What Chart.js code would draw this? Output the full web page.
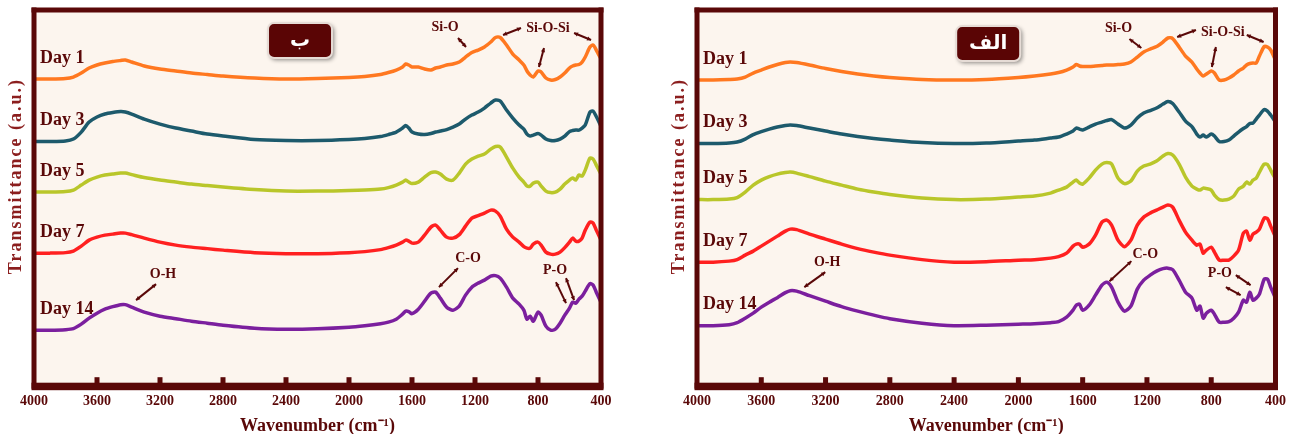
<!doctype html>
<html>
<head>
<meta charset="utf-8" />
<title>FTIR spectra - Day 1 to Day 14</title>
<script src="https://cdn.jsdelivr.net/npm/chart.js@4.4.1/dist/chart.umd.min.js"></script>
<style>
	html,
	body {
		margin: 0;
		padding: 0;
		background: #fff;
	}
	#wrap {
		position: relative;
		width: 1293px;
		height: 434px;
	}
	canvas {
		position: absolute;
		top: 0;
	}
	#chartB { left: 0; }
	#chartA { left: 645px; }
</style>
</head>
<body>
<div id="wrap">
	<canvas id="chartB" width="645" height="434"></canvas>
	<canvas id="chartA" width="648" height="434"></canvas>
</div>
<script>
// wavenumbers (cm-1) at which the spectra were read
const wavenumbers = [4000, 3900, 3800, 3750, 3700, 3650, 3600, 3550, 3500, 3450, 3420, 3380, 3300, 3200, 3100,
	3000, 2900, 2800, 2600, 2400, 2200, 2000, 1900, 1800, 1750, 1700, 1660, 1640, 1620, 1600,
	1560, 1520, 1480, 1450, 1420, 1380, 1340, 1300, 1260, 1220, 1180, 1140, 1100, 1070, 1040,
	1000, 960, 920, 890, 870, 850, 830, 800, 780, 750, 720, 690, 660, 630, 600,
	580, 560, 540, 520, 500, 470, 450, 430, 400];

const tickValues = [4000, 3600, 3200, 2800, 2400, 2000, 1600, 1200, 800, 400];
const dayLabels = ["Day 1", "Day 3", "Day 5", "Day 7", "Day 14"];
const dayColors = ["#ff7820", "#1d5a6c", "#b9c62a", "#ff2020", "#7b1f9e"];

// panel ب (left), stacked transmittance, a.u.
const bDay1 = [309, 309, 309.5, 311, 315, 320, 323, 325, 326.5, 327.5, 328, 326, 322, 319, 317,
	315, 313.5, 312, 310, 309, 309.5, 310.5, 311.5, 313.5, 315.5, 318, 321, 324, 323, 321,
	321, 319, 318, 320, 321, 323, 324, 326, 331, 335.5, 338, 341, 346, 350.5, 350.5,
	343, 334, 328, 323, 317, 313, 311, 317, 316, 310, 308, 308.5, 311, 315, 320,
	322, 323, 323.5, 326, 331, 341, 343, 338, 329];
const bDay3 = [246.5, 246.5, 247, 249, 256, 266, 271, 274, 275.5, 276.5, 276, 274, 269, 264, 260,
	257, 254, 252, 248.5, 247.5, 247.5, 248.5, 249.5, 251.5, 253.5, 256, 260, 262.5, 260, 256,
	254, 253.5, 254.5, 256, 257, 258.5, 261, 264, 269, 273, 276, 280, 285, 288, 287,
	278, 270, 263, 259, 254, 252, 253, 254.5, 253, 249, 247.5, 247.5, 249, 252, 256.5,
	257.5, 258, 258, 260, 263, 276, 277, 271.5, 262];
const bDay5 = [196, 196, 196.5, 198, 203, 208, 211, 213, 214, 215, 215, 213.5, 210.5, 208, 206,
	204, 202.5, 201, 198.5, 197, 197, 197.5, 198, 199, 200.5, 203, 206, 208, 206, 204.5,
	206, 211, 215.5, 216, 214, 209, 208, 215, 224, 229, 232, 234, 239, 241.5, 241,
	231, 220, 211, 206, 202, 202, 205, 206, 202, 197, 195.5, 196, 199, 204, 208,
	210, 208, 213, 212, 218, 230, 229, 223, 214];
const bDay7 = [135, 135, 135.5, 137, 142, 148, 151, 153, 154, 155, 155, 153.5, 150, 146, 143,
	141, 139.5, 138, 135.5, 134.5, 134.5, 135.5, 136.5, 138.5, 140.5, 143, 146, 148, 147, 145,
	146, 153, 161, 163, 158, 151, 150, 153.5, 162, 170, 172.5, 175, 178, 177, 172,
	159, 151, 146, 141.5, 140, 140, 144, 146, 143, 136, 134, 134, 136, 140.5, 146,
	150, 147, 147, 150, 158, 166, 165, 158, 148];
const bDay14 = [58, 58, 58.5, 59.5, 64, 70, 75, 79, 81.5, 83.5, 83.5, 81, 76, 72, 69.5,
	67, 65, 63, 60, 59, 59.5, 61, 62.5, 64.5, 66, 69, 74, 77, 76.5, 74.5,
	79, 87, 95, 96, 90, 81, 78, 82, 93, 101, 105, 108, 112, 112.5, 110,
	101, 90, 84, 78, 69, 72, 67, 76, 73, 62, 58, 59, 65, 73, 80,
	86, 85, 89, 92, 97, 104.5, 103, 96, 86];

// panel الف (right)
const aDay1 = [308, 308, 308.5, 309, 311, 315, 318, 321, 323.5, 325.5, 326, 325.5, 323, 319.5, 316.5,
	314, 312, 310.5, 308.5, 308, 308.5, 310.5, 312, 314, 315.5, 318, 321, 323.5, 322, 321.5,
	321.5, 322, 322.5, 323, 323, 323.5, 324, 326, 331, 336, 339, 341.5, 346, 350, 349.5,
	341, 332, 326, 319, 315, 312, 314, 317, 315, 308, 308, 310, 313, 317, 320,
	323, 324.5, 325, 325, 332, 341.5, 341, 338, 328];
const aDay3 = [244.5, 244.5, 245, 246, 249, 253.5, 256.5, 259, 261, 262.5, 263, 262.5, 260, 257, 254,
	251.5, 249.5, 248, 245.5, 244.5, 245, 247, 248, 250, 251, 254, 257, 260, 259, 258,
	261, 264, 266, 267.5, 268.5, 264, 260, 263, 270, 275, 277.5, 280, 284, 286.5, 284.5,
	276, 267, 261.5, 254, 251, 253, 251, 254, 252, 246.5, 246.5, 248, 252, 256, 259.5,
	261.5, 264.5, 265, 269, 273, 278.5, 277, 273, 266];
const aDay5 = [188.5, 188.5, 189, 190.5, 196, 203, 208, 211.5, 214, 215.5, 216, 215, 211.5, 207, 203,
	199, 196, 193.5, 190, 188.5, 189, 191, 192, 195, 198, 201, 206, 208, 205, 204,
	210, 218, 224, 225.5, 224, 210, 204.5, 207, 217, 222, 224, 227, 232, 234.5, 233,
	224, 211, 202, 199, 198, 200, 199.5, 198, 193, 188.5, 188, 189, 192, 199, 202,
	206, 204, 208, 210, 216, 224, 223.5, 218, 209];
const aDay7 = [126, 126, 127, 128.5, 133, 137, 142, 147, 152, 157, 159, 158.5, 154, 149, 144,
	139.5, 136, 133, 128.5, 126, 126.5, 128, 128.5, 130, 131.5, 135, 142, 144, 144, 141,
	144, 153, 166, 168, 163, 148, 141.5, 148, 163, 171, 175, 178, 181, 183, 181,
	168, 156, 148, 143, 144, 135, 138, 141, 136, 128, 128, 128, 132, 138, 155,
	157, 148, 154, 156, 159, 170, 169.5, 162, 151];
const aDay14 = [62.5, 62.5, 63.5, 65.5, 70, 75, 81, 86, 90.5, 95.5, 97.5, 97, 92.5, 87, 81.5,
	77, 73, 69.5, 65, 62.5, 63, 64, 64.5, 65.5, 66.5, 71, 78, 83, 84, 78,
	83, 93, 103, 106, 101, 86, 77, 82, 99, 108, 113, 117, 119.5, 120, 118.5,
	108, 96, 90, 78, 82, 70, 75, 78, 74, 66, 66, 66.5, 70, 76, 88,
	86, 96, 88, 90, 94, 109, 109, 101, 90];

// band labels and double arrows, in (wavenumber, a.u.)
const bandTextsB = [
	{ text: "Si-O", wn: 1390, v: 361 },
	{ text: "Si-O-Si", wn: 737, v: 360 },
	{ text: "O-H", wn: 3181, v: 114 },
	{ text: "C-O", wn: 1244, v: 130 },
	{ text: "P-O", wn: 692, v: 118 },
];
const bandArrowsB = [
	[1308, 350, 1257, 341], [1022, 353, 908, 360], [571, 355, 463, 348], [762, 340, 794, 321],
	[3352, 88, 3225, 104], [1429, 101, 1308, 120], [686, 106, 622, 85], [622, 110, 571, 88],
];
const bandTextsA = [
	{ text: "Si-O", wn: 1377, v: 360 },
	{ text: "Si-O-Si", wn: 728, v: 356 },
	{ text: "O-H", wn: 3190, v: 126 },
	{ text: "C-O", wn: 1210, v: 134 },
	{ text: "P-O", wn: 746, v: 115 },
];
const bandArrowsA = [
	[1309, 349, 1235, 340], [1012, 351, 895, 358], [579, 353, 474, 346], [771, 341, 796, 321],
	[3332, 101, 3202, 116], [1433, 107, 1297, 127], [647, 113, 555, 103], [709, 101, 617, 93],
];

const serif = '"Liberation Serif", "Times New Roman", serif';
const maroon = "#5a0808";
const plotBg = "#fcf5ee";

function drawArrow(ctx, x1, y1, x2, y2) {
	const ang = Math.atan2(y2 - y1, x2 - x1);
	const h = 4.5;
	ctx.beginPath();
	ctx.moveTo(x1, y1);
	ctx.lineTo(x2, y2);
	ctx.stroke();
	[[x2, y2, ang], [x1, y1, ang + Math.PI]].forEach(([x, y, a]) => {
		ctx.beginPath();
		ctx.moveTo(x, y);
		ctx.lineTo(x - h * Math.cos(a - 0.5), y - h * Math.sin(a - 0.5));
		ctx.lineTo(x - h * Math.cos(a + 0.5), y - h * Math.sin(a + 0.5));
		ctx.closePath();
		ctx.fill();
	});
}

function decorPlugin(panel) {
	return {
		id: "panelDecor",
		beforeDraw(chart) {
			const { ctx, chartArea: a } = chart;
			ctx.save();
			ctx.fillStyle = plotBg;
			ctx.fillRect(a.left, a.top, a.right - a.left, a.bottom - a.top);
			ctx.restore();
		},
		afterDatasetsDraw(chart) {
			const { ctx, chartArea: a } = chart;
			const xs = chart.scales.x, ys = chart.scales.y;
			const px = (w) => xs.getPixelForValue(w);
			const py = (v) => ys.getPixelForValue(v);
			ctx.save();

			// frame
			ctx.fillStyle = maroon;
			ctx.fillRect(a.left - 2.5, a.top - 2.5, 5, a.bottom - a.top + 5);
			ctx.fillRect(a.right - 2.5, a.top - 2.5, 5, a.bottom - a.top + 5);
			ctx.fillRect(a.left - 2.5, a.top - 2.5, a.right - a.left + 5, 5);
			ctx.fillRect(a.left - 2.5, a.bottom - 3.5, a.right - a.left + 5, 7.5);
			// inward tick marks
			tickValues.slice(1, -1).forEach((t) => {
				ctx.fillRect(px(t) - 2.5, a.bottom - 9, 5, 6);
			});

			// day labels
			ctx.font = "bold 18px " + serif;
			ctx.textAlign = "left";
			ctx.textBaseline = "middle";
			panel.series.forEach((s, i) => {
				ctx.fillText(dayLabels[i], a.left + 6, py(s[0]) - 21);
			});

			// band labels + arrows
			ctx.font = "bold 14px " + serif;
			ctx.textAlign = "center";
			panel.texts.forEach((t) => ctx.fillText(t.text, px(t.wn), py(t.v)));
			ctx.strokeStyle = maroon;
			ctx.lineWidth = 2;
			panel.arrows.forEach(([w1, v1, w2, v2]) => drawArrow(ctx, px(w1), py(v1), px(w2), py(v2)));

			// panel title box
			const bx = px(panel.box.wn), by = py(panel.box.v);
			ctx.save();
			ctx.shadowColor = "rgba(0,0,0,0.45)";
			ctx.shadowBlur = 4;
			ctx.shadowOffsetX = 2;
			ctx.shadowOffsetY = 2;
			ctx.fillStyle = "#5a0505";
			ctx.beginPath();
			ctx.roundRect(bx - 32, by - 17, 64, 35, 6);
			ctx.fill();
			ctx.restore();
			ctx.strokeStyle = "#e6dcd6";
			ctx.lineWidth = 2;
			ctx.beginPath();
			ctx.roundRect(bx - 32, by - 17, 64, 35, 6);
			ctx.stroke();
			ctx.fillStyle = "#ffffff";
			ctx.font = 'bold 20px "DejaVu Sans", sans-serif';
			ctx.fillText(panel.title, bx, by + 1);

			// y title
			ctx.fillStyle = "#8b1e1e";
			ctx.font = "bold 18px " + serif;
			ctx.letterSpacing = "2px";
			ctx.translate(a.left - 18, (a.top + a.bottom) / 2 - 22);
			ctx.rotate(-Math.PI / 2);
			ctx.fillText("Transmittance (a.u.)", 0, 0);
			ctx.restore();
		},
	};
}

function makePanel(panel) {
	const ctx = document.getElementById(panel.canvas).getContext("2d");
	return new Chart(ctx, {
		type: "line",
		data: {
			datasets: panel.series.map((s, i) => ({
				label: dayLabels[i],
				data: wavenumbers.map((w, j) => ({ x: w, y: s[j] })),
				borderColor: dayColors[i],
				borderWidth: 3.5,
				pointRadius: 0,
				tension: 0.25,
				fill: false,
			})),
		},
		options: {
			responsive: false,
			devicePixelRatio: 1,
			animation: false,
			layout: { padding: panel.padding },
			plugins: { legend: { display: false }, tooltip: { enabled: false } },
			scales: {
				x: {
					type: "linear",
					reverse: true,
					min: 400,
					max: 4000,
					afterBuildTicks: (scale) => {
						scale.ticks = tickValues.map((v) => ({ value: v }));
					},
					grid: { display: false, drawTicks: false },
					border: { display: false },
					ticks: {
						autoSkip: false,
						maxRotation: 0,
						padding: 7,
						color: maroon,
						font: { family: serif, size: 14, weight: "bold" },
						callback: (v) => String(v),
					},
					title: {
						display: true,
						text: "Wavenumber (cm\u207B\u00B9)",
						color: maroon,
						padding: { top: 0, bottom: 0 },
						font: { family: serif, size: 18, weight: "bold", lineHeight: 1.0 },
					},
				},
				y: { display: false, min: 2, max: 378 },
			},
		},
		plugins: [decorPlugin(panel)],
	});
}

makePanel({
	canvas: "chartB",
	title: "ب",
	series: [bDay1, bDay3, bDay5, bDay7, bDay14],
	texts: bandTextsB,
	arrows: bandArrowsB,
	box: { wn: 2311, v: 348 },
	padding: { left: 34, right: 44, top: 10, bottom: -1 },
});
makePanel({
	canvas: "chartA",
	title: "الف",
	series: [aDay1, aDay3, aDay5, aDay7, aDay14],
	texts: bandTextsA,
	arrows: bandArrowsA,
	box: { wn: 2188, v: 345 },
	padding: { left: 52, right: 14, top: 10, bottom: -1 },
});
</script>
</body>
</html>
